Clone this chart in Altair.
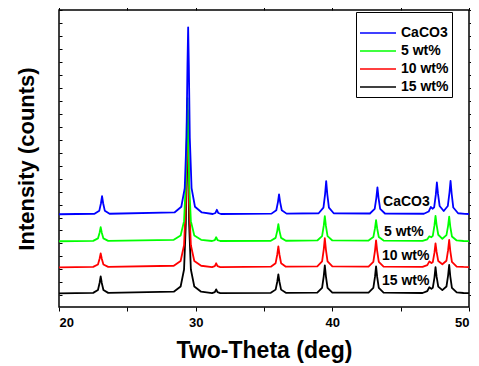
import altair as alt
import pandas as pd

SERIES = ["CaCO3", "5 wt%", "10 wt%", "15 wt%"]
COLORS = ["#0000ff", "#00ff00", "#ff0000", "#000000"]

X_TICKS = [20, 25, 30, 35, 40, 45, 50]
Y_TICKS = list(range(0, 22001, 1000))

# 2-theta grid shared by the three composite patterns
X_MIX = [20.0, 22.5, 22.85, 22.97, 23.05, 23.13, 23.25, 23.6,
         28.4, 28.9, 29.15, 29.28, 29.35, 29.4, 29.45, 29.52, 29.65, 29.9, 30.4,
         31.2, 31.4, 31.5, 31.6, 31.8,
         35.5, 35.85, 35.97, 36.05, 36.13, 36.25, 36.6,
         38.9, 39.25, 39.37, 39.45, 39.53, 39.65, 40.0,
         42.65, 43.0, 43.12, 43.2, 43.28, 43.4, 43.75,
         46.6, 46.95, 47.1, 47.25, 47.35, 47.47, 47.55, 47.63, 47.75, 48.05,
         48.35, 48.47, 48.55, 48.63, 48.75, 49.1, 49.6, 50.0]

Y_5 = [4170, 4200, 4390, 4830, 5250, 4830, 4390, 4200,
       4280, 4610, 5720, 8700, 13000, 15210, 13000, 8700, 5720, 4610, 4280,
       4190, 4260, 4480, 4260, 4190,
       4210, 4430, 4970, 5480, 4970, 4430, 4210,
       4230, 4560, 5350, 6100, 5350, 4560, 4230,
       4220, 4490, 5160, 5790, 5160, 4490, 4220,
       4200, 4320, 4550, 4480, 4590, 5370, 6120, 5440, 4670, 4360,
       4640, 5360, 6070, 5300, 4540, 4230, 4190, 4180]

Y_10 = [2160, 2190, 2380, 2820, 3240, 2820, 2380, 2190,
        2280, 2650, 3860, 7130, 11860, 14280, 11860, 7130, 3860, 2650, 2280,
        2180, 2250, 2470, 2250, 2180,
        2210, 2480, 3150, 3780, 3150, 2480, 2210,
        2230, 2610, 3530, 4400, 3530, 2610, 2230,
        2220, 2580, 3430, 4240, 3430, 2580, 2220,
        2190, 2330, 2620, 2490, 2560, 3270, 4000, 3350, 2640, 2400,
        2670, 3480, 4280, 3430, 2580, 2220, 2190, 2180]

Y_15 = [150, 190, 410, 950, 1460, 950, 410, 190,
        280, 680, 1990, 5530, 10650, 13270, 10650, 5530, 1990, 680, 280,
        170, 240, 460, 240, 170,
        190, 440, 1050, 1620, 1050, 440, 190,
        210, 580, 1470, 2310, 1470, 580, 210,
        210, 570, 1420, 2230, 1420, 570, 210,
        180, 330, 620, 500, 580, 1350, 2170, 1440, 670, 400,
        680, 1520, 2350, 1470, 580, 220, 180, 170]

# pure CaCO3 pattern (peaks sit slightly higher in 2-theta)
X_CACO3 = [20.0, 22.6, 22.95, 23.07, 23.15, 23.23, 23.35, 23.7,
           28.45, 28.95, 29.2, 29.33, 29.4, 29.45, 29.5, 29.57, 29.7, 29.95, 30.45,
           31.25, 31.45, 31.55, 31.65, 31.85,
           35.55, 35.9, 36.02, 36.1, 36.18, 36.3, 36.65,
           39.0, 39.35, 39.47, 39.55, 39.63, 39.75, 40.1,
           42.75, 43.1, 43.22, 43.3, 43.38, 43.5, 43.85,
           46.7, 47.05, 47.2, 47.35, 47.45, 47.57, 47.65, 47.73, 47.85, 48.15,
           48.45, 48.57, 48.65, 48.73, 48.85, 49.2, 49.7, 50.0]

Y_CACO3 = [6250, 6290, 6530, 7100, 7640, 7100, 6530, 6290,
           6390, 6830, 8270, 12160, 17780, 20660, 17780, 12160, 8270, 6830, 6390,
           6270, 6350, 6600, 6350, 6270,
           6300, 6560, 7190, 7790, 7190, 6560, 6300,
           6330, 6760, 7810, 8800, 7810, 6760, 6330,
           6310, 6670, 7520, 8330, 7520, 6670, 6310,
           6290, 6460, 6810, 6680, 6780, 7740, 8700, 7840, 6890, 6500,
           6890, 7910, 8820, 7850, 6770, 6330, 6280, 6270]

# in-plot annotation positions
LABEL_X = [43.71, 43.78, 43.63, 43.63]
LABEL_Y = [7180, 4860, 3010, 1080]

rows = []
for name, xs, ys in [("15 wt%", X_MIX, Y_15), ("10 wt%", X_MIX, Y_10),
                     ("5 wt%", X_MIX, Y_5), ("CaCO3", X_CACO3, Y_CACO3)]:
    for xv, yv in zip(xs, ys):
        rows.append({"theta": xv, "counts": yv, "series": name})
df = pd.DataFrame(rows)
labels_df = pd.DataFrame({"theta": LABEL_X, "counts": LABEL_Y, "text": SERIES})

FONT = "Liberation Sans"
x_scale = alt.Scale(domain=[20, 50], nice=False, zero=False)
y_scale = alt.Scale(domain=[-900, 22000], nice=False, zero=False)

lines = alt.Chart(df).mark_line(strokeWidth=1.8, strokeJoin="round", clip=True).encode(
    x=alt.X("theta:Q", scale=x_scale,
            axis=alt.Axis(orient="bottom", title="Two-Theta (deg)", values=X_TICKS,
                          labelExpr="datum.value % 10 == 0 ? datum.label : ''",
                          tickSize=4, domain=False, grid=False, labelPadding=5,
                          titlePadding=10, labelOverlap=False, titleLimit=400,
                          titleFontSize=23)),
    y=alt.Y("counts:Q", scale=y_scale,
            axis=alt.Axis(orient="left", title="Intensity (counts)", values=Y_TICKS,
                          labels=False, tickSize=3, offset=-3, domain=False,
                          grid=False, titlePadding=20)),
    color=alt.Color("series:N", scale=alt.Scale(domain=SERIES, range=COLORS),
                    legend=alt.Legend(title=" ", titleFontSize=11, titlePadding=0,
                                      orient="none", legendX=297, legendY=2,
                                      strokeColor="black", fillColor="white", padding=3,
                                      symbolType="stroke", symbolSize=1300,
                                      symbolStrokeWidth=1.5, labelFont=FONT,
                                      labelFontSize=14, labelFontWeight="bold",
                                      labelOffset=4, rowPadding=4, clipHeight=14)),
)

texts = alt.Chart(labels_df).mark_text(align="left", baseline="middle", font=FONT,
                                       fontSize=14, fontWeight="bold", color="black").encode(
    x=alt.X("theta:Q", scale=x_scale,
            axis=alt.Axis(orient="top", values=X_TICKS, labels=False, tickSize=3,
                          domain=False, grid=False, title=None)),
    y=alt.Y("counts:Q", scale=y_scale,
            axis=alt.Axis(orient="right", values=Y_TICKS, labels=False, tickSize=3,
                          domain=False, grid=False, title=None)),
    text="text:N",
)

chart = alt.layer(lines, texts).resolve_axis(x="independent", y="independent").properties(
    width=410, height=297,
    autosize=alt.AutoSizeParams(type="none"),
    padding={"left": 51, "top": 2, "right": 2, "bottom": 60},
).configure_view(stroke="black", strokeWidth=1.5).configure_axis(
    tickColor="black", tickWidth=1, labelFont=FONT, labelFontSize=13,
    labelFontWeight="bold", labelColor="black", titleFont=FONT, titleFontSize=22,
    titleFontWeight="bold", titleColor="black",
)

chart.save("out.html", embed_options={"renderer": "svg", "actions": False})
